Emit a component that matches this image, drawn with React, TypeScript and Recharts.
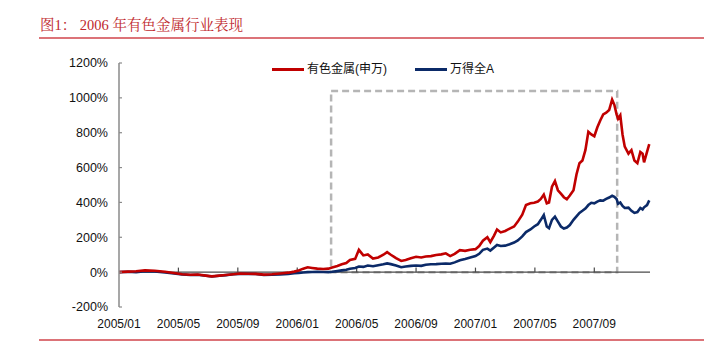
import React from "react";
import { LineChart, Line, XAxis, YAxis, ReferenceLine, ReferenceArea } from "recharts";

// x = months since 2005/01 (approx. weekly readings)
const months = [
  0, 0.6, 1.15, 1.75, 2.4, 3.1, 3.7, 4.25, 4.8, 5.3, 5.85, 6.25, 6.75, 7.2, 7.7, 8.15, 8.7, 9.2, 9.75,
  10.3, 10.85, 11.4, 11.8, 12.1, 12.4, 12.7, 13.0, 13.35, 13.75, 14.1, 14.35, 14.7, 15.0, 15.3, 15.55,
  15.9, 16.15, 16.45, 16.75, 17.1, 17.45, 17.8, 18.05, 18.3, 18.65, 19.0, 19.3, 19.65, 20.0, 20.35,
  20.65, 21.0, 21.35, 21.7, 22.0, 22.3, 22.6, 22.95, 23.3, 23.65, 24.0, 24.25, 24.5, 24.8, 25.0, 25.25,
  25.45, 25.7, 26.0, 26.3, 26.6, 26.85, 27.15, 27.4, 27.7, 27.95, 28.2, 28.4, 28.6, 28.8, 28.95, 29.15,
  29.35, 29.55, 29.75, 29.95, 30.15, 30.35, 30.6, 30.8, 31.0, 31.2, 31.4, 31.6, 31.8, 32.0, 32.2, 32.4,
  32.6, 32.8, 33.0, 33.2, 33.35, 33.5, 33.6, 33.75, 33.9, 34.05, 34.3, 34.5, 34.7, 34.9, 35.1, 35.25,
  35.35, 35.55, 35.7,
];

const metals = [
  0, 3, 5, 10, 8, 2, -5, -12, -15, -14, -20, -24, -20, -16, -12, -8, -9, -10, -14,
  -12, -8, -3, 3, 10, 20, 28, 24, 20, 18, 20, 26, 35, 45, 52, 70,
  76, 128, 96, 102, 78, 84, 100, 115, 100, 80, 64, 70, 80, 88, 84,
  90, 92, 98, 102, 108, 92, 105, 126, 122, 128, 132, 150, 180, 200, 172, 210,
  245, 228, 236, 250, 262, 290, 330, 385, 395, 398, 405, 420, 445, 395, 400, 490,
  522, 470, 450, 430, 418, 440, 470, 560, 625, 640, 700, 805, 790, 780, 830, 870,
  905, 915, 930, 990, 960, 905, 880, 900, 790, 720, 680, 700, 640, 625, 690, 680,
  630, 690, 735,
];

const windA = [
  0, 2, 0, 6, 4, -2, -8, -13, -16, -15, -21, -25, -21, -17, -12, -10, -10, -11, -16,
  -15, -13, -10, -6, -4, -2, 0, 1, 2, 1, 0, 2, 6, 10, 14, 20,
  24, 32, 30, 38, 34, 40, 45, 50, 46, 38, 28, 32, 36, 38, 36,
  42, 45, 46, 48, 50, 48, 56, 68, 75, 84, 92, 105, 128, 135, 124, 142,
  156, 150, 152, 160, 170, 182, 205, 230, 245, 262, 275, 300, 328, 262, 252, 300,
  318, 290, 262, 250, 256, 270, 300, 320, 340, 352, 365, 385, 398, 395, 405, 412,
  410, 420, 428, 438, 432, 420, 392, 400, 380, 368, 370, 352, 340, 345, 368, 360,
  372, 385, 412,
];

const xTickLabels = ["2005/01", "2005/05", "2005/09", "2006/01", "2006/05", "2006/09", "2007/01", "2007/05", "2007/09"];
const yTicks = [-200, 0, 200, 400, 600, 800, 1000, 1200];
const seriesNames = ["有色金属(申万)", "万得全A"];
// dashed highlight box: 2006/03 mid .. 2007/10 mid, up to 1040%
const highlight = { x1: 14.28, x2: 33.54, y1: 0, y2: 1040 };

const RED = "#c00000";
const NAVY = "#0b2a68";

const data = months.map((m, i) => ({ m, metals: metals[i], windA: windA[i] }));
const xTicks = xTickLabels.map((_, i) => i * 4);

const sans = '"Liberation Sans", Arial, "Noto Sans CJK SC", sans-serif';

function LegendBox() {
  const items = [
    { name: seriesNames[0], color: RED, width: 143 },
    { name: seriesNames[1], color: NAVY, width: 90 },
  ];
  return (
    <div style={{ position: "absolute", left: 272, top: 61, display: "flex", fontFamily: sans, fontSize: 12, color: "#111" }}>
      {items.map((it) => (
        <div key={it.name} style={{ display: "flex", alignItems: "center", width: it.width }}>
          <span style={{ display: "inline-block", width: 32, height: 3, background: it.color, marginRight: 3 }} />
          <span style={{ lineHeight: "16px" }}>{it.name}</span>
        </div>
      ))}
    </div>
  );
}

export default function App() {
  return (
    <div style={{ position: "absolute", left: 0, top: 0, width: 704, height: 347, background: "#fff", overflow: "hidden" }}>
      <div
        style={{
          position: "absolute",
          left: 40,
          top: 15,
          fontFamily: '"Liberation Serif", "Noto Serif CJK SC", "Noto Sans CJK SC", serif',
          fontSize: 14.5,
          color: "#c0282d",
          whiteSpace: "pre",
          lineHeight: "20px",
        }}
      >
        {"图1： 2006 年有色金属行业表现"}
      </div>
      <div style={{ position: "absolute", left: 39, top: 37, width: 665, height: 2, background: "#dc7378" }} />
      <div style={{ position: "absolute", left: 39, top: 339, width: 665, height: 2, background: "#dc7378" }} />

      <LineChart width={704} height={347} data={data} margin={{ top: 63, right: 54, bottom: 10, left: 0 }}>
        <XAxis
          dataKey="m"
          type="number"
          domain={[0, 35.75]}
          ticks={xTicks}
          tickFormatter={(v: number) => xTickLabels[Math.round(v / 4)]}
          axisLine={false}
          tickLine={false}
          height={30}
          tickMargin={6}
          interval={0}
          tick={{ fontSize: 12, fill: "#111", fontFamily: sans }}
        />
        <YAxis
          domain={[-200, 1200]}
          ticks={yTicks}
          tickFormatter={(v: number) => `${v}%`}
          width={119}
          axisLine={{ stroke: "#8a8a8a", strokeWidth: 1.5 }}
          tickLine={{ stroke: "#8a8a8a", strokeWidth: 1.2 }}
          tickSize={-3}
          tickMargin={14}
          interval={0}
          tick={{ fontSize: 12.5, fill: "#111", fontFamily: sans }}
        />
        <ReferenceLine y={0} stroke="#4a4a4a" strokeWidth={1.3} />
        {xTicks.slice(1).map((t) => (
          <ReferenceLine
            key={t}
            segment={[{ x: t, y: 0 }, { x: t, y: 26 }]}
            stroke="#4a4a4a"
            strokeWidth={1.2}
          />
        ))}
        <Line
          type="linear"
          dataKey="windA"
          name={seriesNames[1]}
          stroke={NAVY}
          strokeWidth={2.6}
          dot={false}
          isAnimationActive={false}
        />
        <Line
          type="linear"
          dataKey="metals"
          name={seriesNames[0]}
          stroke={RED}
          strokeWidth={2.6}
          dot={false}
          isAnimationActive={false}
        />
        <ReferenceArea
          x1={highlight.x1}
          x2={highlight.x2}
          y1={highlight.y1}
          y2={highlight.y2}
          fill="none"
          fillOpacity={0}
          stroke="#b5b5b5"
          strokeWidth={2.5}
          strokeDasharray="7 4"
        />
      </LineChart>
      <LegendBox />
    </div>
  );
}
